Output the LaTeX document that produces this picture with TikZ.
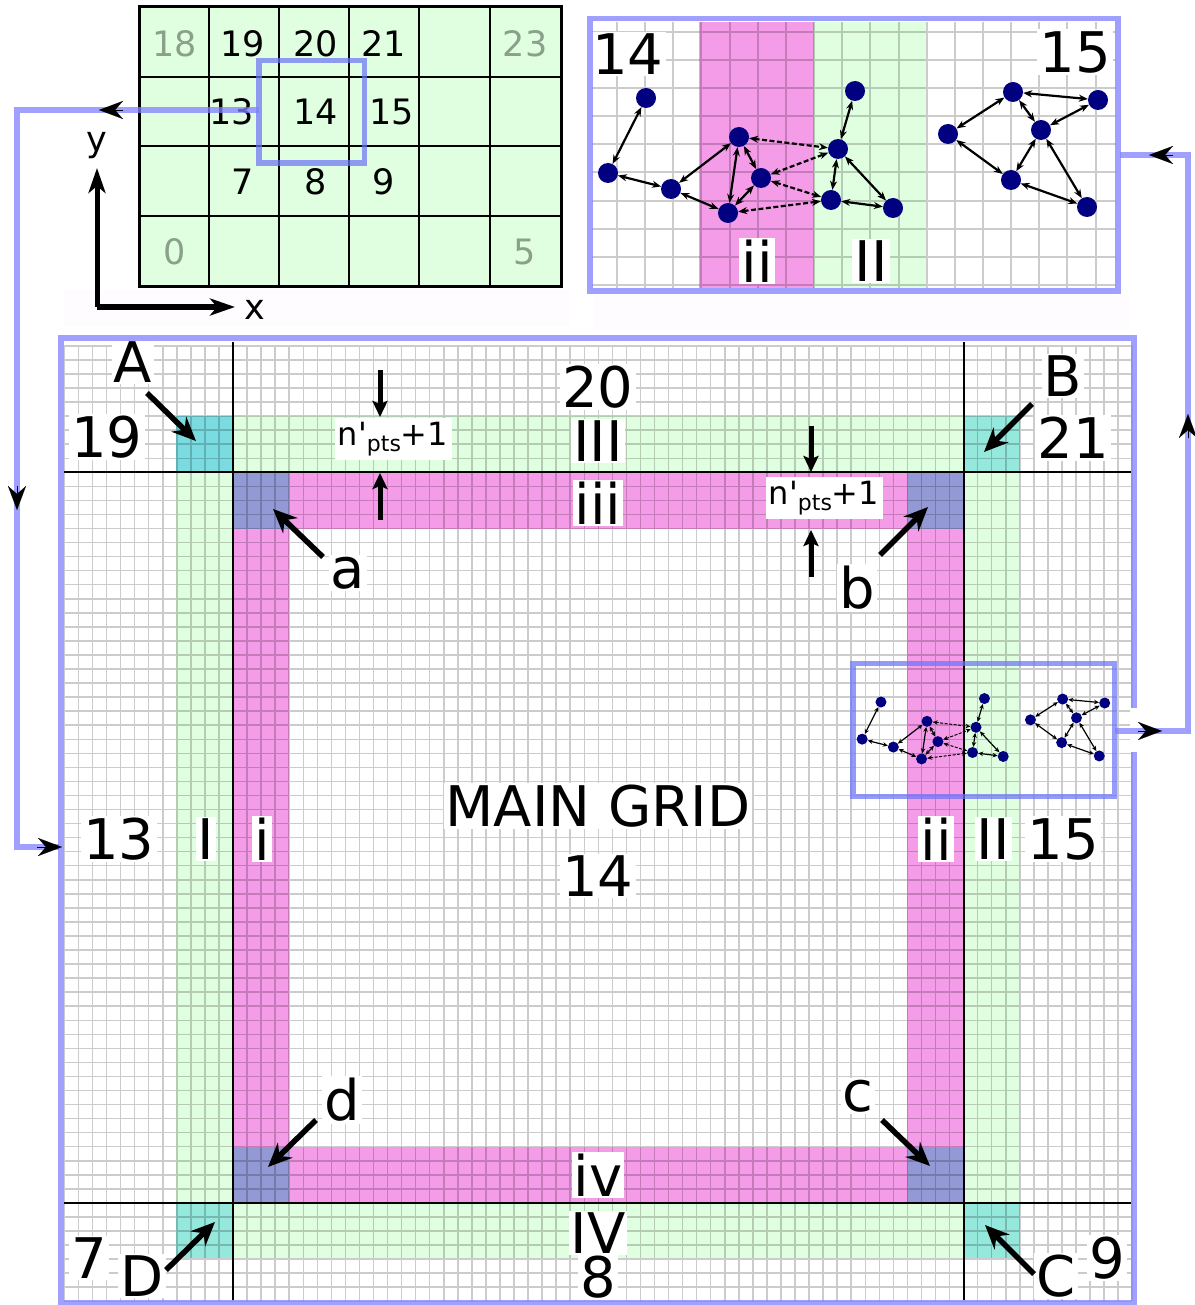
\documentclass[tikz,border=0pt]{standalone}
\usepackage{fontspec}
\setmainfont{DejaVu Sans}
\newfontfamily\plainface{DejaVu Sans}
\usetikzlibrary{arrows.meta}
\definecolor{bandgreen}{HTML}{E0FFE0}
\definecolor{bandpink}{HTML}{F49CE8}
\definecolor{cornerblue}{HTML}{9399D5}
\definecolor{cornercyanA}{HTML}{7ADCE0}
\definecolor{cornercyan}{HTML}{95E8DC}
\definecolor{linkblue}{HTML}{8080FF}
\definecolor{overlayblue}{HTML}{6C74F6}
\definecolor{netblue}{HTML}{000080}
\definecolor{fadetext}{HTML}{8BA08B}
\definecolor{faint}{HTML}{FFFCFF}
\newcommand\fs[1]{\fontsize{#1}{#1}\selectfont}
\newcommand\nptstext{n{\plainface '}{\fs{22}\raisebox{-6pt}{pts}}+1}
\newcommand\netw[4]{%
  \foreach \nn/\px/\py in {1/646/98,2/608/173,3/671/189,4/739/137,5/728/213,6/761/178,7/838/149,8/855/91,9/831/200,10/893/208,11/948/134,12/1013/92,13/1098/100,14/1041/130,15/1011/180,16/1087/207}
    \node[#2] (#1\nn) at (\px,\py) {};
  \foreach \ea/\eb in {1/2,2/3,3/4,3/5,4/5,4/6,5/6,7/8,7/9,7/10,9/10,11/12,12/13,12/14,13/14,14/15,14/16,11/15,15/16}
    \draw[#3] (#1\ea) -- (#1\eb);
  \foreach \ea/\eb in {4/7,6/7,6/9,5/9}
    \draw[#3,#4] (#1\ea) -- (#1\eb);
}
\tikzset{
  gridfine/.style={draw=black,draw opacity=.2,line width=1.5pt},
  gridwide/.style={draw=black,draw opacity=.2,line width=2pt},
  frameline/.style={draw=linkblue,draw opacity=.75,line width=5.5pt,line join=miter},
  overlayframe/.style={draw=overlayblue,draw opacity=.72,line width=5.5pt,line join=miter},
  heavyline/.style={draw=black,line width=1.8pt},
  lab/.style={fill=white,inner sep=2pt,text=black,font=\fs{56}},
  smalllab/.style={text=black,font=\fs{35},inner sep=0pt},
  fadelab/.style={text=fadetext,font=\fs{35},inner sep=0pt},
  npts/.style={fill=white,inner sep=0pt,minimum width=117pt,minimum height=42pt,text=black,font=\fs{32}},
  callout/.style={draw=black,line width=5.5pt,-{Stealth[length=24pt,width=21pt,inset=8pt]}},
  tick/.style={draw=black,line width=5pt,-{Stealth[length=16pt,width=15pt,inset=3pt]}},
  axis/.style={draw=black,line width=5pt,-{Stealth[length=25pt,width=17pt,inset=7pt]}},
  head/.style={draw=black,line width=.1pt,-{Stealth[length=24pt,width=18pt,inset=8pt]}},
  bignode/.style={circle,fill=netblue,inner sep=0pt,minimum size=20pt},
  bigedge/.style={draw=black,line width=2.2pt,{Stealth[length=9pt,width=7pt]}-{Stealth[length=9pt,width=7pt]}},
  tinynode/.style={circle,fill=netblue,inner sep=0pt,minimum size=11pt},
  tinyedge/.style={draw=black,line width=1.2pt,{Stealth[length=5pt,width=4.5pt]}-{Stealth[length=5pt,width=4.5pt]}},
}
\begin{document}
\begin{tikzpicture}[x=1pt,y=-1pt]
\useasboundingbox (0,0) rectangle (1194,1305);
% faint strips
\fill[faint] (64,290) rectangle (570,326);
\fill[faint] (593,295) rectangle (1130,330);
% top-left overview grid
\fill[bandgreen] (139,7) rectangle (561,287);
\draw[heavyline] \foreach \gx in {209,279,349,419,490} {(\gx,7) -- (\gx,287)}
  \foreach \gy in {77,146,216} {(139,\gy) -- (561,\gy)};
\draw[draw=black,line width=3pt] (139,7) rectangle (561,287);
\node[fadelab] (t18) at (175,44) {18};
\node[smalllab] (t19) at (243,44) {19};
\node[smalllab] (t20) at (316,44) {20};
\node[smalllab] (t21) at (384,44) {21};
\node[fadelab] (t23) at (525,44) {23};
\node[smalllab] (t13) at (232,112) {13};
\node[smalllab] (t14) at (316,112) {14};
\node[smalllab] (t15) at (392,112) {15};
\node[smalllab] (t7) at (243,182) {7};
\node[smalllab] (t8) at (316,182) {8};
\node[smalllab] (t9) at (384,182) {9};
\node[fadelab] (t0) at (175,252) {0};
\node[fadelab] (t5) at (525,252) {5};
% axes
\coordinate (axo) at (97,307);
\coordinate (axy) at (97,168);
\coordinate (axx) at (235,307);
\draw[axis] (axo) -- (axy);
\draw[axis] (axo) -- (axx);
\node[smalllab] (ylab) at (97,146) {y};
\node[smalllab] (xlab) at (255,310) {x};
% main grid bands
\fill[bandgreen] (176,416) rectangle (1020,1258);
\fill[bandpink] (233,472) rectangle (964,1203);
\fill[white] (289,529) rectangle (907,1147);
\fill[cornercyanA] (176,416) rectangle (233,472);
\fill[cornercyan] (964,416) rectangle (1020,472);
\fill[cornercyan] (964,1203) rectangle (1020,1258);
\fill[cornercyan] (176,1203) rectangle (233,1258);
\fill[cornerblue] (233,472) rectangle (289,529);
\fill[cornerblue] (907,472) rectangle (964,529);
\fill[cornerblue] (907,1147) rectangle (964,1203);
\fill[cornerblue] (233,1147) rectangle (289,1203);
\draw[gridfine] foreach \k in {-12,...,64} {({233+14.05*\k},345) -- ({233+14.05*\k},1301)}
  foreach \k in {-9,...,59} {(64,{472.3+14.05*\k}) -- (1132,{472.3+14.05*\k})};
\draw[heavyline] (233,342) -- (233,1300) (964,342) -- (964,1300) (64,472.3) -- (1131,472.3) (64,1203) -- (1131,1203);
% main labels
\node[lab] (A) at (133,362) {A};
\node[lab] (l19) at (107,437) {19};
\node[lab] (l20) at (598,387) {20};
\node[lab] (lIII) at (598,441) {III};
\node[lab] (l21) at (1073,438) {21};
\node[lab] (B) at (1063,376) {B};
\node[lab] (liii) at (598,503) {iii};
\node[lab] (a) at (348,573) {a};
\node[lab] (b) at (857,588) {b};
\node[lab] (c) at (858,1096) {c};
\node[lab] (d) at (342,1100) {d};
\node[lab] (l13) at (119,839) {13};
\node[lab] (lI) at (206,839) {I};
\node[lab] (li) at (262,839) {i};
\node[lab] (lii) at (936,839) {ii};
\node[lab] (lII) at (993,839) {II};
\node[lab] (l15) at (1063,839) {15};
\node[lab] (main) at (598,806) {MAIN GRID};
\node[lab] (l14) at (598,876) {14};
\node[lab] (liv) at (598,1175) {iv};
\node[lab] (lIV) at (598,1233) {IV};
\node[lab] (l8) at (598,1277) {8};
\node[lab] (l7) at (89,1258) {7};
\node[lab] (D) at (142,1276) {D};
\node[lab] (C) at (1056,1276) {C};
\node[lab] (l9) at (1107,1258) {9};
\node[npts] (n1) at (393,439) {\nptstext};
\node[npts] (n2) at (824,498) {\nptstext};
% callouts
\coordinate (As) at (147,393); \coordinate (At) at (196,441);
\coordinate (Bs) at (1032,404); \coordinate (Bt) at (984,452);
\coordinate (as) at (323,557); \coordinate (at) at (273,509);
\coordinate (bs) at (880,555); \coordinate (bt) at (928,507);
\coordinate (cs) at (882,1120); \coordinate (ct) at (930,1166);
\coordinate (ds) at (316,1120); \coordinate (dt) at (268,1167);
\coordinate (Ds) at (166,1270); \coordinate (Dt) at (215,1222);
\coordinate (Cs) at (1034,1274); \coordinate (Ct) at (985,1225);
\draw[callout] (As) -- (At);
\draw[callout] (Bs) -- (Bt);
\draw[callout] (as) -- (at);
\draw[callout] (bs) -- (bt);
\draw[callout] (cs) -- (ct);
\draw[callout] (ds) -- (dt);
\draw[callout] (Ds) -- (Dt);
\draw[callout] (Cs) -- (Ct);
\coordinate (t1s) at (380,370); \coordinate (t1t) at (380,417);
\coordinate (t2s) at (380,520); \coordinate (t2t) at (380,473);
\coordinate (t3s) at (811,426); \coordinate (t3t) at (811,472);
\coordinate (t4s) at (811,577); \coordinate (t4t) at (811,530);
\draw[tick] (t1s) -- (t1t);
\draw[tick] (t2s) -- (t2t);
\draw[tick] (t3s) -- (t3t);
\draw[tick] (t4s) -- (t4t);
% zoom inset background
\fill[white] (590,18) rectangle (1118,291);
\fill[bandpink] (699,22) rectangle (814,288);
\fill[bandgreen] (814,22) rectangle (926,288);
\draw[gridwide] foreach \k in {0,...,17} {({617+28.15*\k},22) -- ({617+28.15*\k},288)}
  foreach \k in {0,...,9} {(592,{32+28.1*\k}) -- (1116,{32+28.1*\k})};
\node[lab] (z14) at (628,54) {14};
\node[lab] (z15) at (1075,52) {15};
\node[lab] (zii) at (757,261) {ii};
\node[lab] (zII) at (871,261) {II};
\netw{z}{bignode}{bigedge}{dash pattern=on 5pt off 2.5pt}
% small copy in main grid
\begin{scope}[shift={(561.2,653.5)},scale=.495]
\netw{s}{tinynode}{tinyedge}{dash pattern=on 3pt off 1.5pt,line width=1pt}
\end{scope}
% frames and links
\draw[frameline] (61,338) rectangle (1134,1303);
\fill[white] (1130,708) rectangle (1162,752);
\draw[frameline] (590,18.5) rectangle (1118,291);
\draw[overlayframe] (853,663.5) rectangle (1114.5,796.5);
\draw[overlayframe] (259,60.5) rectangle (364.5,163);
\coordinate (lk1) at (259,110);
\coordinate (lk2) at (17,110);
\coordinate (lk3) at (17,847);
\coordinate (lk4) at (59,847);
\draw[frameline] (lk1) -- (lk2) -- (lk3) -- (lk4);
\coordinate (rk1) at (1114.5,731);
\coordinate (rk2) at (1188,731);
\coordinate (rk3) at (1188,155);
\coordinate (rk4) at (1120,155);
\draw[frameline] (rk1) -- (rk2) -- (rk3) -- (rk4);
% arrow heads on the links
\coordinate (h1a) at (123,110); \coordinate (h1b) at (99,110);
\coordinate (h2a) at (17,486); \coordinate (h2b) at (17,510);
\coordinate (h3a) at (37,847); \coordinate (h3b) at (62,847);
\coordinate (h4a) at (1138,731); \coordinate (h4b) at (1162,731);
\coordinate (h5a) at (1188,438); \coordinate (h5b) at (1188,414);
\coordinate (h6a) at (1173,155); \coordinate (h6b) at (1149,155);
\draw[head] (h1a) -- (h1b);
\draw[head] (h2a) -- (h2b);
\draw[head] (h3a) -- (h3b);
\draw[head] (h4a) -- (h4b);
\draw[head] (h5a) -- (h5b);
\draw[head] (h6a) -- (h6b);
\end{tikzpicture}
\end{document}
